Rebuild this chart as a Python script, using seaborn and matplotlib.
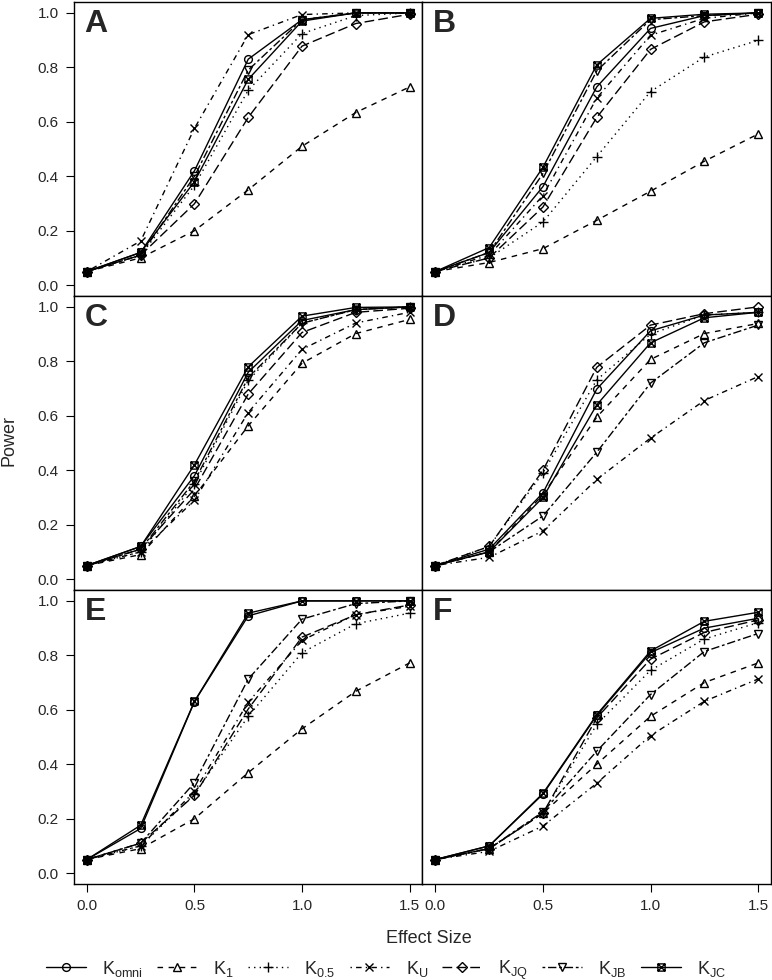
import numpy as np
import pandas as pd
import matplotlib
matplotlib.use("Agg")
import matplotlib.pyplot as plt
from matplotlib.path import Path
from matplotlib.lines import Line2D
import seaborn as sns

sns.set_theme(style="white")
plt.rcParams['font.family'] = ['Liberation Sans', 'DejaVu Sans']
plt.rcParams['mathtext.fontset'] = 'custom'
plt.rcParams['mathtext.rm'] = 'Liberation Sans'
plt.rcParams['mathtext.it'] = 'Liberation Sans:italic'

effect_size = [0.0, 0.25, 0.5, 0.75, 1.0, 1.25, 1.5]
tests = ["omni", "1", "0.5", "U", "JQ", "JB", "JC"]
test_labels = [r"K$_{\mathrm{omni}}$", r"K$_{\mathrm{1}}$", r"K$_{\mathrm{0.5}}$",
               r"K$_{\mathrm{U}}$", r"K$_{\mathrm{JQ}}$", r"K$_{\mathrm{JB}}$",
               r"K$_{\mathrm{JC}}$"]
panels = ["A", "B", "C", "D", "E", "F"]

# rows: omni, 1, 0.5, U, JQ, JB, JC
power_A = [
    [0.05, 0.12, 0.42, 0.83, 0.975, 1.0, 1.0],
    [0.05, 0.10, 0.20, 0.35, 0.51, 0.634, 0.728],
    [0.05, 0.11, 0.366, 0.716, 0.924, 0.99, 1.0],
    [0.05, 0.162, 0.576, 0.92, 0.994, 1.0, 1.0],
    [0.05, 0.11, 0.299, 0.616, 0.878, 0.961, 0.995],
    [0.05, 0.11, 0.40, 0.79, 0.975, 1.0, 1.0],
    [0.05, 0.12, 0.38, 0.756, 0.97, 1.0, 1.0],
]
power_B = [
    [0.05, 0.12, 0.362, 0.728, 0.943, 0.99, 1.0],
    [0.05, 0.083, 0.134, 0.238, 0.345, 0.455, 0.555],
    [0.05, 0.10, 0.232, 0.472, 0.711, 0.838, 0.899],
    [0.05, 0.11, 0.329, 0.687, 0.918, 0.98, 1.0],
    [0.05, 0.10, 0.287, 0.616, 0.866, 0.967, 0.995],
    [0.05, 0.12, 0.41, 0.787, 0.975, 0.99, 1.0],
    [0.05, 0.138, 0.433, 0.809, 0.98, 0.995, 1.0],
]
power_C = [
    [0.05, 0.12, 0.38, 0.76, 0.95, 0.99, 1.0],
    [0.05, 0.09, 0.305, 0.563, 0.793, 0.902, 0.954],
    [0.05, 0.10, 0.35, 0.73, 0.94, 0.99, 1.0],
    [0.05, 0.10, 0.29, 0.612, 0.844, 0.941, 0.98],
    [0.05, 0.11, 0.33, 0.68, 0.906, 0.98, 0.995],
    [0.05, 0.11, 0.36, 0.74, 0.94, 0.99, 1.0],
    [0.05, 0.12, 0.42, 0.78, 0.966, 0.998, 1.0],
]
power_D = [
    [0.05, 0.11, 0.317, 0.698, 0.912, 0.97, 0.98],
    [0.05, 0.10, 0.31, 0.595, 0.807, 0.902, 0.939],
    [0.05, 0.12, 0.39, 0.732, 0.90, 0.97, 0.98],
    [0.05, 0.08, 0.177, 0.366, 0.518, 0.656, 0.744],
    [0.05, 0.12, 0.40, 0.778, 0.933, 0.975, 1.0],
    [0.05, 0.10, 0.232, 0.466, 0.72, 0.868, 0.933],
    [0.05, 0.10, 0.30, 0.64, 0.868, 0.96, 0.98],
]
power_E = [
    [0.05, 0.164, 0.63, 0.945, 1.0, 1.0, 1.0],
    [0.05, 0.09, 0.20, 0.369, 0.53, 0.668, 0.772],
    [0.05, 0.10, 0.29, 0.576, 0.81, 0.916, 0.955],
    [0.05, 0.10, 0.30, 0.628, 0.855, 0.95, 0.98],
    [0.05, 0.11, 0.286, 0.603, 0.867, 0.949, 0.985],
    [0.05, 0.11, 0.332, 0.713, 0.933, 0.99, 1.0],
    [0.05, 0.176, 0.631, 0.955, 1.0, 1.0, 1.0],
]
power_F = [
    [0.05, 0.10, 0.29, 0.579, 0.81, 0.90, 0.936],
    [0.05, 0.09, 0.22, 0.40, 0.576, 0.70, 0.772],
    [0.05, 0.09, 0.22, 0.546, 0.745, 0.86, 0.92],
    [0.05, 0.08, 0.173, 0.33, 0.505, 0.631, 0.713],
    [0.05, 0.09, 0.22, 0.57, 0.786, 0.884, 0.93],
    [0.05, 0.09, 0.225, 0.448, 0.656, 0.814, 0.88],
    [0.05, 0.10, 0.293, 0.582, 0.816, 0.925, 0.958],
]
panel_data = [power_A, power_B, power_C, power_D, power_E, power_F]

# square with cross marker (R pch 7)
sq_x = Path([(-1, -1), (1, -1), (1, 1), (-1, 1), (-1, -1),
             (-1, -1), (1, 1), (-1, 1), (1, -1)],
            [Path.MOVETO, Path.LINETO, Path.LINETO, Path.LINETO, Path.CLOSEPOLY,
             Path.MOVETO, Path.LINETO, Path.MOVETO, Path.LINETO])

markers = ["o", "^", "+", "x", "D", "v", sq_x]
msizes = [5.6, 6.0, 7.5, 6.0, 4.6, 6.0, 5.2]
styles = ["-", (0, (4, 4)), (0, (1, 3)), (0, (1, 3, 4, 3)),
          (0, (7, 3)), (0, (2, 2, 6, 2)), "-"]

fig = plt.figure(figsize=(7.72, 9.80), dpi=100)
axes = fig.subplots(3, 2, sharex=True, sharey=True)
fig.subplots_adjust(left=74/772, right=771/772, top=1-2/980, bottom=1-884/980,
                    wspace=0, hspace=0)

for k, ax in enumerate(axes.flat):
    data = panel_data[k]
    for i, t in enumerate(tests):
        df = pd.DataFrame({"effect": effect_size, "power": data[i]})
        sns.lineplot(data=df, x="effect", y="power", ax=ax, color="black",
                     marker=markers[i], linestyle=styles[i], lw=1.0,
                     mfc="none", mec="black", mew=1.0, ms=msizes[i])
    ax.set_xlim(-0.06, 1.56)
    ax.set_ylim(-0.04, 1.04)
    ax.set_xlabel("")
    ax.set_ylabel("")
    for s in ax.spines.values():
        s.set_color("black")
        s.set_linewidth(1.0)
    ax.text(0.03, 0.925, panels[k], transform=ax.transAxes, fontsize=23,
            fontweight="bold", ha="left", va="center")
    col = k % 2
    row = k // 2
    ax.set_yticks([0.0, 0.2, 0.4, 0.6, 0.8, 1.0])
    ax.set_xticks([0.0, 0.5, 1.0, 1.5])
    ax.tick_params(axis="both", direction="out", length=6, width=0.8,
                   color="black", labelsize=11, pad=5)
    ax.tick_params(axis="y", left=(col == 0), labelleft=(col == 0))
    ax.tick_params(axis="x", bottom=(row == 2), labelbottom=(row == 2))
    if col == 0:
        ax.set_yticklabels(["0.0", "0.2", "0.4", "0.6", "0.8", "1.0"])
    if row == 2:
        ax.set_xticklabels(["0.0", "0.5", "1.0", "1.5"])

fig.text(0.012, 1 - 440/980, "Power", rotation=90, ha="center", va="center",
         fontsize=13)
fig.text(0.555, 1 - 938/980, "Effect Size", ha="center", va="center",
         fontsize=13)

handles = [Line2D([], [], color="black", marker=markers[i], linestyle=styles[i],
                  lw=1.0, mfc="none", mec="black", ms=msizes[i])
           for i in range(len(tests))]
fig.legend(handles, test_labels, loc="center", bbox_to_anchor=(0.5, 1 - 970/980),
           ncol=7, frameon=False, fontsize=13, handlelength=2.2,
           handletextpad=0.9, columnspacing=0.8, borderaxespad=0)

fig.savefig("out.png", dpi=100)
